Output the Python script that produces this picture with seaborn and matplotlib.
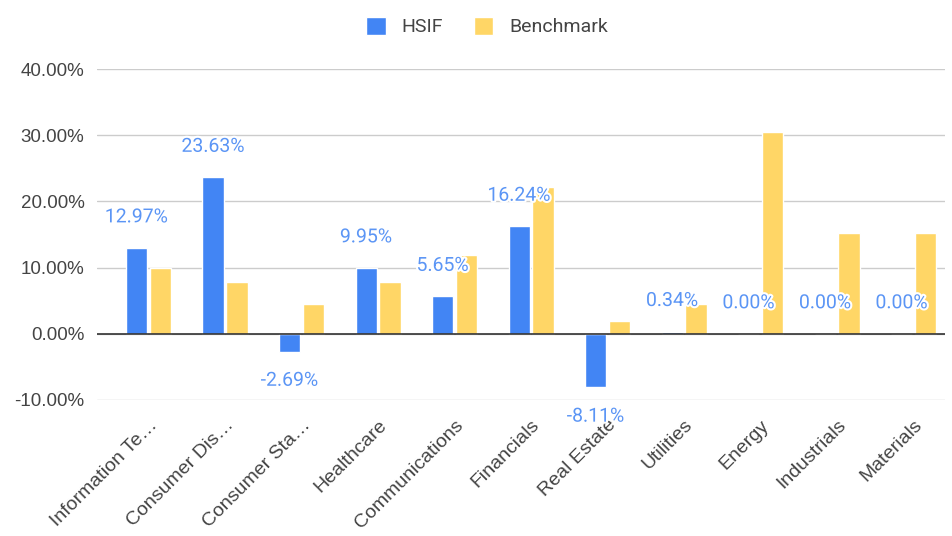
import pandas as pd
import seaborn as sns
import matplotlib.pyplot as plt
import matplotlib.patheffects as pe
from matplotlib.ticker import FuncFormatter

sectors = ["Information Te\u2026", "Consumer Dis\u2026", "Consumer Sta\u2026",
           "Healthcare", "Communications", "Financials", "Real Estate",
           "Utilities", "Energy", "Industrials", "Materials"]
hsif = [12.97, 23.63, -2.69, 9.95, 5.65, 16.24, -8.11, 0.34, 0.00, 0.00, 0.00]
benchmark = [10.0, 7.8, 4.5, 7.8, 11.9, 22.2, 2.0, 4.5, 30.5, 15.2, 15.2]

df = pd.DataFrame({"Sector": sectors * 2,
                   "Value": hsif + benchmark,
                   "Series": ["HSIF"] * len(sectors) + ["Benchmark"] * len(sectors)})

sns.set_theme(style="white")
plt.rcParams["font.family"] = ["Roboto", "DejaVu Sans"]

fig = plt.figure(figsize=(9.53, 5.36), dpi=100)
ax = fig.add_axes([97 / 953, 136 / 536, 848 / 953, 331 / 536])

sns.barplot(data=df, x="Sector", y="Value", hue="Series",
            hue_order=["HSIF", "Benchmark"],
            palette=["#4285F4", "#FFD666"], width=0.62, gap=0.1,
            saturation=1, ax=ax)

ax.set_ylim(-10, 40)
ax.set_xlim(-0.673, 10.41)
ax.set_yticks([-10, 0, 10, 20, 30, 40])
ax.yaxis.set_major_formatter(FuncFormatter(lambda v, p: f"{v:.2f}%"))
ax.grid(axis="y", color="#cccccc", linewidth=1)
ax.set_axisbelow(True)
ax.axhline(0, color="#333333", linewidth=1.2, zorder=3)
for s in ax.spines.values():
    s.set_visible(False)
ax.set_xlabel("")
ax.set_ylabel("")
ax.tick_params(axis="y", labelsize=13.5, labelcolor="#444444", pad=9, length=0)
ax.tick_params(axis="x", labelsize=14, labelcolor="#444444", pad=12, length=0)
for t in ax.get_yticklabels() + ax.get_xticklabels():
    t.set_fontfamily(["Liberation Sans", "DejaVu Sans"])
plt.setp(ax.get_xticklabels(), rotation=45, ha="right", rotation_mode="anchor")

# data labels for HSIF
for bar, v in zip(ax.containers[0], hsif):
    cx = bar.get_x() + bar.get_width() / 2
    off = 22 if v >= 0 else -21
    ax.annotate(f"{v:.2f}%", (cx, v), xytext=(0, off), textcoords="offset points",
                ha="center", va="center", fontsize=14, color="#5B95F5",
                path_effects=[pe.withStroke(linewidth=3, foreground="white")],
                zorder=5)

handles, labels = ax.get_legend_handles_labels()
ax.get_legend().remove()
fig.legend(handles, labels, loc="center", bbox_to_anchor=(0.511, 0.95), ncol=2,
           frameon=False, fontsize=14, handlelength=1.0, handleheight=1.0,
           columnspacing=1.6, handletextpad=0.8, labelcolor="#444444")

fig.savefig("out.png", dpi=100)
